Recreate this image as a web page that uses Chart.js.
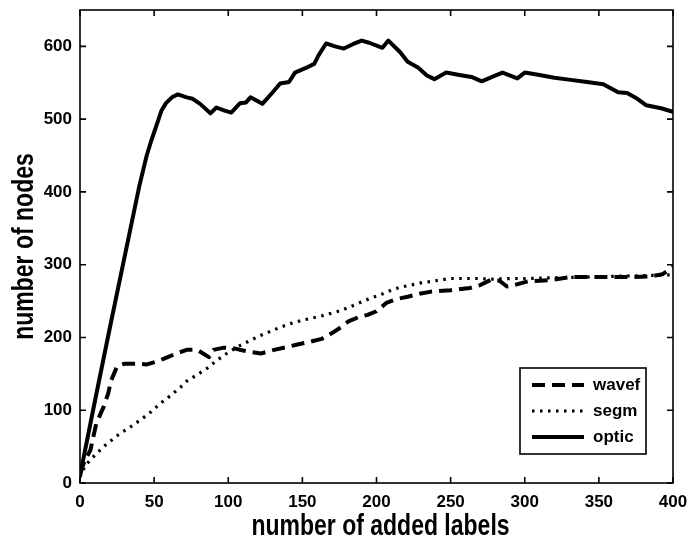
<!DOCTYPE html>
<html>
<head>
<meta charset="utf-8">
<script src="https://cdn.jsdelivr.net/npm/chart.js@4/dist/chart.umd.min.js"></script>
<style>
  html, body { margin: 0; padding: 0; background: #fff; }
  #wrap { width: 689px; height: 540px; position: relative; }
</style>
</head>
<body>
<div id="wrap"><canvas id="nodes"></canvas></div>
<script>
// ── series: nodes created vs. number of added labels ──
const opticX = [0, 10, 20, 30, 40, 45, 48, 52, 55, 58, 62, 66, 72, 76, 81, 88, 92, 97, 102, 108, 112, 115, 123, 130, 135, 141, 145, 152, 158, 161, 166, 172, 178, 184, 190, 195, 204, 208, 216, 221, 228, 234, 239, 247, 255, 264, 271, 278, 285, 295, 300, 309, 320, 331, 342, 353, 363, 369, 376, 382, 392, 400];
const opticY = [10, 112, 212, 310, 408, 450, 470, 494, 512, 522, 530, 534, 530, 528, 521, 508, 516, 512, 509, 522, 523, 530, 521, 537, 549, 551, 564, 570, 576, 588, 604, 600, 597, 603, 608, 605, 598, 608, 592, 579, 571, 560, 555, 564, 561, 558, 552, 558, 564, 556, 564, 561, 557, 554, 551, 548, 537, 536, 528, 519, 515, 510];

const wavefX = [0, 3, 7, 11, 16, 19, 21, 25, 30, 38, 45, 52, 58, 65, 72, 79, 83, 87, 90, 97, 104, 110, 115, 122, 131, 140, 146, 155, 163, 170, 176, 181, 188, 194, 200, 207, 214, 221, 229, 237, 250, 263, 270, 277, 283, 288, 293, 302, 310, 318, 331, 345, 358, 372, 385, 393, 400];
const wavefY = [12, 30, 45, 82, 105, 123, 141, 160, 164, 164, 163, 167, 172, 178, 183, 183, 178, 173, 183, 186, 185, 182, 180, 178, 183, 187, 190, 194, 198, 206, 214, 222, 228, 231, 236, 248, 253, 256, 260, 263, 265, 268, 272, 279, 278, 270, 272, 277, 278, 279, 283, 283, 283, 283, 284, 287, 297];

const segmX = [0, 3, 7, 12, 16, 22, 27, 34, 41, 48, 54, 61, 68, 72, 80, 86, 92, 99, 107, 115, 121, 128, 135, 142, 149, 155, 162, 169, 176, 182, 189, 196, 203, 210, 216, 223, 230, 237, 243, 250, 257, 264, 270, 277, 290, 300, 320, 340, 360, 380, 400];
const segmY = [8, 22, 32, 42, 50, 60, 68, 77, 87, 98, 109, 120, 132, 140, 150, 158, 168, 178, 188, 196, 202, 208, 214, 219, 223, 226, 229, 233, 237, 242, 248, 254, 259, 265, 269, 272, 275, 277, 279, 281, 281, 281, 281, 280, 281, 281, 282, 283, 284, 285, 286];

const xTicks = [0, 50, 100, 150, 200, 250, 300, 350, 400];
const yTicks = [0, 100, 200, 300, 400, 500, 600];
const xTitle = 'number of added labels';
const yTitle = 'number of nodes';

const pts = (xs, ys) => xs.map((x, i) => ({ x, y: ys[i] }));

const FONT = "'Liberation Sans', Arial, sans-serif";

// box frame + inward ticks on all four sides (matlab style)
const frame = {
    id: 'frame',
    afterDraw(chart) {
        const { ctx, chartArea: a, scales: { x, y } } = chart;
        const tl = 6;
        ctx.save();
        ctx.strokeStyle = '#000';
        ctx.lineWidth = 1.6;
        ctx.strokeRect(a.left, a.top, a.right - a.left, a.bottom - a.top);
        ctx.beginPath();
        xTicks.forEach(v => {
            const px = x.getPixelForValue(v);
            ctx.moveTo(px, a.bottom); ctx.lineTo(px, a.bottom - tl);
            ctx.moveTo(px, a.top);    ctx.lineTo(px, a.top + tl);
        });
        yTicks.forEach(v => {
            const py = y.getPixelForValue(v);
            ctx.moveTo(a.left, py);  ctx.lineTo(a.left + tl, py);
            ctx.moveTo(a.right, py); ctx.lineTo(a.right - tl, py);
        });
        ctx.stroke();
        ctx.restore();
    },
};

// axis titles, drawn a bit taller than the face's natural shape
const titles = {
    id: 'titles',
    afterDraw(chart) {
        const { ctx, chartArea: a } = chart;
        const stretch = 1.25;
        ctx.save();
        ctx.fillStyle = '#000';
        ctx.font = `bold 23px ${FONT}`;
        ctx.textAlign = 'center';
        ctx.textBaseline = 'alphabetic';

        ctx.save();
        ctx.translate((a.left + a.right) / 2 + 4, 535);
        ctx.scale(1, stretch);
        ctx.fillText(xTitle, 0, 0);
        ctx.restore();

        ctx.save();
        ctx.translate(33, (a.top + a.bottom) / 2);
        ctx.rotate(-Math.PI / 2);
        ctx.scale(1, stretch);
        ctx.fillText(yTitle, 0, 0);
        ctx.restore();

        ctx.restore();
    },
};

// legend box in the lower right of the plot
const boxLegend = {
    id: 'boxLegend',
    afterDraw(chart) {
        const { ctx } = chart;
        const bx = 520, by = 368, bw = 126, bh = 86;
        ctx.save();
        ctx.fillStyle = '#fff';
        ctx.fillRect(bx, by, bw, bh);
        ctx.strokeStyle = '#000';
        ctx.lineWidth = 1.6;
        ctx.strokeRect(bx, by, bw, bh);

        ctx.font = `bold 17px ${FONT}`;
        ctx.textBaseline = 'middle';
        ctx.fillStyle = '#000';
        const rows = [385, 411, 437];
        chart.data.datasets.forEach((ds, i) => {
            const ry = rows[i];
            ctx.beginPath();
            ctx.setLineDash(ds.borderDash || []);
            ctx.lineWidth = ds.borderWidth;
            ctx.lineCap = 'butt';
            ctx.moveTo(532, ry);
            ctx.lineTo(584, ry);
            ctx.stroke();
            ctx.setLineDash([]);
            ctx.fillText(ds.label, 593, ry);
        });
        ctx.restore();
    },
};

new Chart(document.getElementById('nodes'), {
    type: 'line',
    data: {
        datasets: [
            { label: 'wavef', data: pts(wavefX, wavefY), borderDash: [13, 7],   borderWidth: 4 },
            { label: 'segm',  data: pts(segmX, segmY),   borderDash: [2.5, 5.5], borderWidth: 3.2 },
            { label: 'optic', data: pts(opticX, opticY), borderWidth: 4 },
        ].map(d => ({
            ...d,
            borderColor: '#000',
            backgroundColor: '#000',
            pointRadius: 0,
            tension: 0,
            fill: false,
            borderCapStyle: 'butt',
            borderJoinStyle: 'round',
        })),
    },
    options: {
        responsive:          true,
        maintainAspectRatio: false,
        animation:           false,
        layout: { padding: { top: 10, right: 16, left: 0, bottom: 0 } },
        plugins: {
            legend:  { display: false },
            tooltip: { enabled: false },
        },
        scales: {
            x: {
                type: 'linear',
                min: 0, max: 400,
                grid:   { display: false, drawTicks: false },
                border: { display: false },
                afterBuildTicks: s => { s.ticks = xTicks.map(value => ({ value })); },
                // fixed axis band; end labels may hang into the outer margin
                afterFit: s => { s.height = 57; s.paddingLeft = 0; s.paddingRight = 0; },
                ticks: { color: '#000', padding: 9, maxRotation: 0, font: { family: FONT, size: 17, weight: 'bold' } },
            },
            y: {
                type: 'linear',
                min: 0, max: 650,
                grid:   { display: false, drawTicks: false },
                border: { display: false },
                afterBuildTicks: s => { s.ticks = yTicks.map(value => ({ value })); },
                afterFit: s => { s.width = 80; s.paddingTop = 0; s.paddingBottom = 0; },
                ticks: { color: '#000', padding: 8, font: { family: FONT, size: 17, weight: 'bold' } },
            },
        },
    },
    plugins: [frame, titles, boxLegend],
});
</script>
</body>
</html>
